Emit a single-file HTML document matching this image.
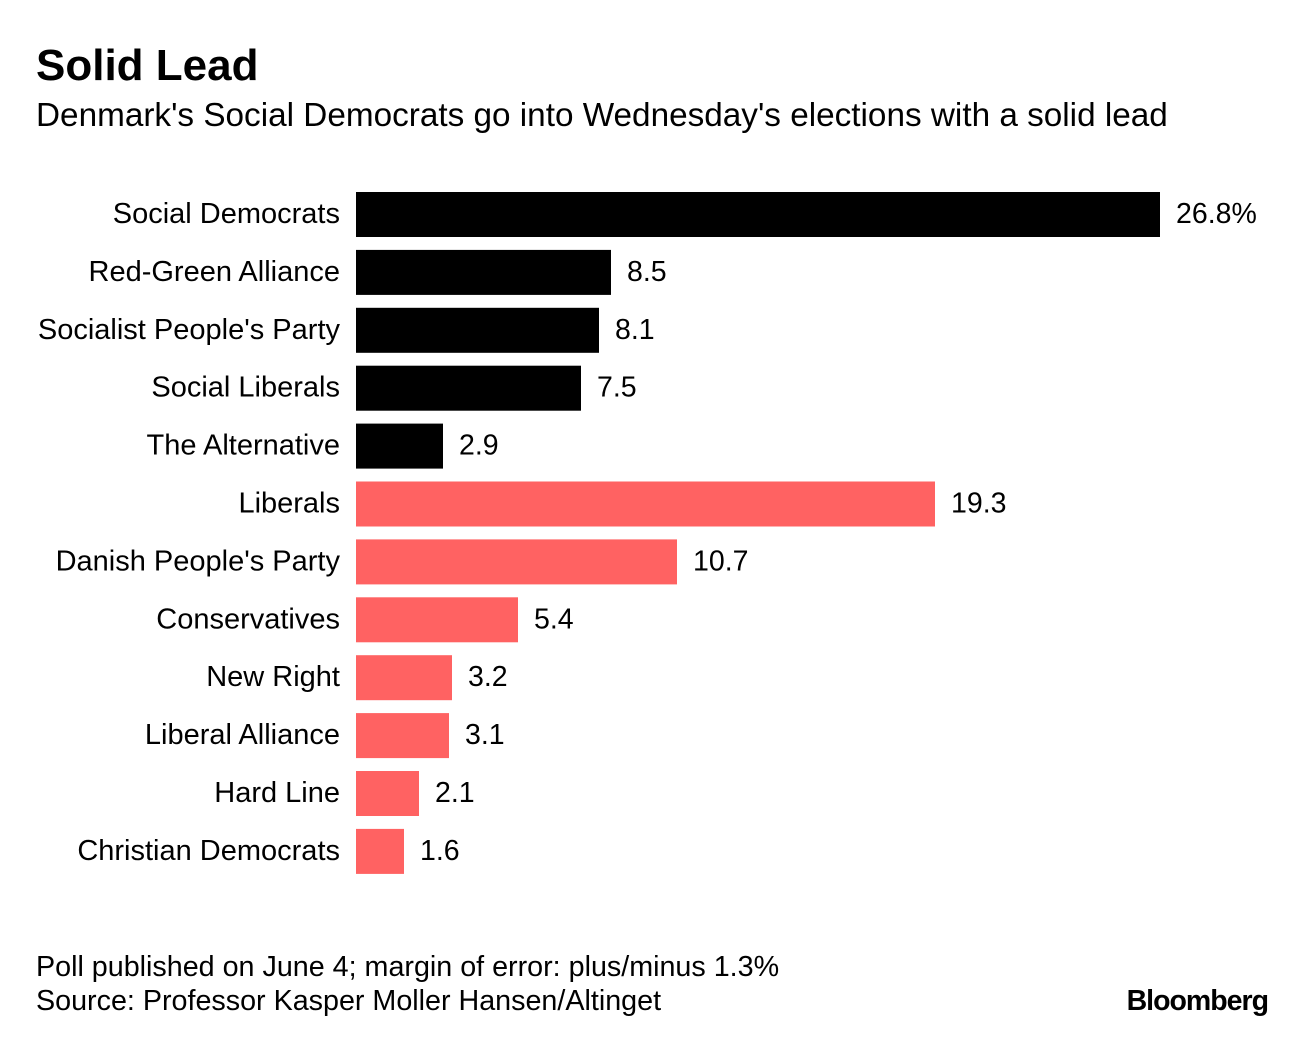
<!DOCTYPE html>
<html><head><meta charset="utf-8"><style>
body{margin:0;background:#fff;width:1296px;height:1032px;overflow:hidden;font-family:"Liberation Sans",sans-serif;}
svg text{font-family:"Liberation Sans",sans-serif;}
</style></head><body>
<svg width="1296" height="1032">
<text x="36" y="80" font-size="44" font-weight="bold" fill="#000">Solid Lead</text>
<text x="36" y="126" font-size="33.3" fill="#000">Denmark's Social Democrats go into Wednesday's elections with a solid lead</text>
<g id="bars"></g>
<text x="36" y="976" font-size="28.7" fill="#000">Poll published on June 4; margin of error: plus/minus 1.3%</text>
<text x="36" y="1010" font-size="28.7" fill="#000">Source: Professor Kasper Moller Hansen/Altinget</text>
<text x="1268" y="1010" font-size="28.5" font-weight="bold" text-anchor="end" fill="#000" letter-spacing="-1">Bloomberg</text>
</svg>
<script>
const parties=["Social Democrats","Red-Green Alliance","Socialist People's Party","Social Liberals","The Alternative","Liberals","Danish People's Party","Conservatives","New Right","Liberal Alliance","Hard Line","Christian Democrats"];
const values=[26.8,8.5,8.1,7.5,2.9,19.3,10.7,5.4,3.2,3.1,2.1,1.6];
const valueLabels=["26.8%","8.5","8.1","7.5","2.9","19.3","10.7","5.4","3.2","3.1","2.1","1.6"];
const blocs=["red","red","red","red","red","blue","blue","blue","blue","blue","blue","blue"];
const x0=356, scale=804/26.8;
function xs(v){return x0+v*scale;}
function ys(i){return 192+i*57.9;}
const g=document.getElementById('bars');
const ns='http://www.w3.org/2000/svg';
parties.forEach((p,i)=>{
  const y=ys(i);
  const r=document.createElementNS(ns,'rect');
  r.setAttribute('x',x0);r.setAttribute('y',y);r.setAttribute('width',xs(values[i])-x0);r.setAttribute('height',45);
  r.setAttribute('fill',blocs[i]==='red'?'#000':'#ff6262');
  
  
  g.appendChild(r);
  const t=document.createElementNS(ns,'text');
  t.setAttribute('x',340);t.setAttribute('y',y+31);t.setAttribute('text-anchor','end');t.setAttribute('font-size','29');
  t.textContent=p;
  
  
  g.appendChild(t);
  const v=document.createElementNS(ns,'text');
  v.setAttribute('x',xs(values[i])+16);v.setAttribute('y',y+31);v.setAttribute('font-size','28.5');
  v.textContent=valueLabels[i];
  
  
  g.appendChild(v);
});
</script>
</body></html>
